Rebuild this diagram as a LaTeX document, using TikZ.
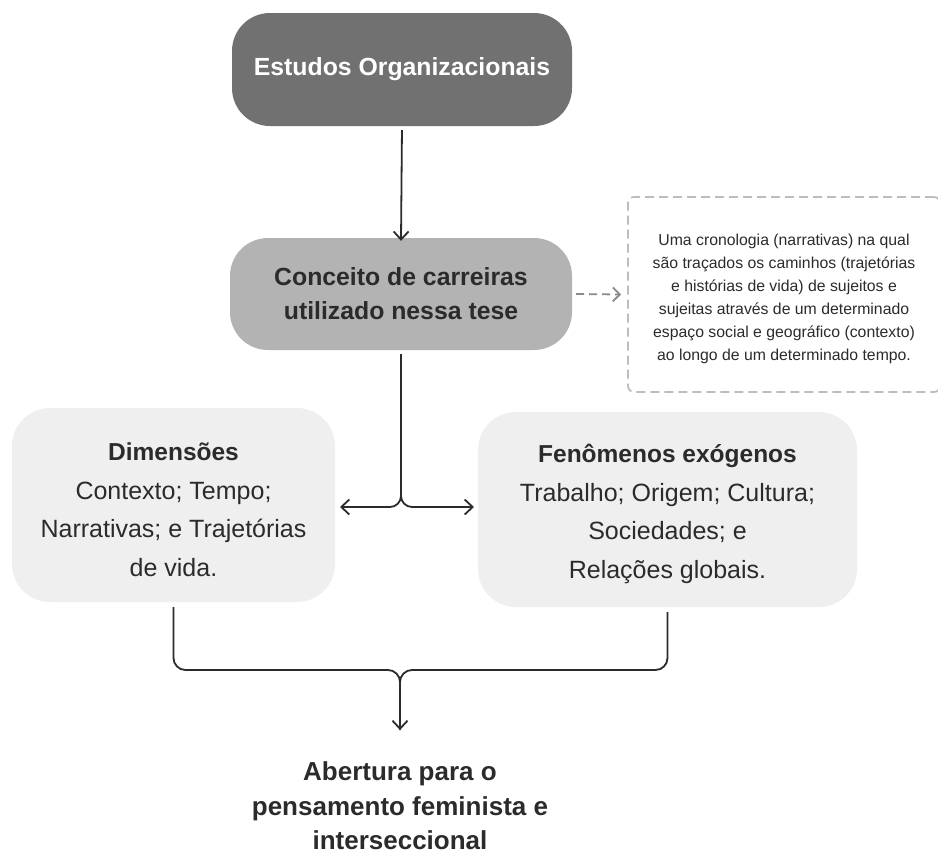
\documentclass[tikz,border=0pt]{standalone}
\usepackage{fontspec}
\setmainfont{Liberation Sans}
\usetikzlibrary{arrows.meta}
\definecolor{darkbox}{HTML}{717171}
\definecolor{midbox}{HTML}{B3B3B3}
\definecolor{lightbox}{HTML}{EFEFEF}
\definecolor{txt}{HTML}{2B2B2B}
\definecolor{dashgray}{HTML}{BDBDBD}
\definecolor{arrgray}{HTML}{8A8A8A}
\tikzset{
  box/.style={rounded corners=38pt, align=center, inner sep=0pt, text=txt},
  boldbig/.style={font=\bfseries\fontsize{24.8}{34}\selectfont},
  regbig/.style={font=\fontsize{25}{38.5}\selectfont},
  conn/.style={line width=1.8pt, draw=txt, -{Straight Barb[length=8pt,width=15pt,line width=1.8pt]}},
  plainconn/.style={line width=1.8pt, draw=txt},
  dasharr/.style={line width=1.8pt, draw=arrgray, dash pattern=on 8pt off 5pt, -{Straight Barb[length=7pt,width=14pt,line width=1.8pt]}},
  notebox/.style={draw=dashgray, line width=1.8pt, dash pattern=on 9pt off 5pt, rounded corners=6pt, align=center, text=txt, font=\fontsize{15.8}{23}\selectfont}
}
\begin{document}
\begin{tikzpicture}[x=1pt,y=-1pt]
\useasboundingbox (0,0) rectangle (938,857);
% nodes
\node[box, boldbig, fill=darkbox, text=white, minimum width=340pt, minimum height=113pt] (b1) at (402,69.5) {Estudos Organizacionais};
\node[box, boldbig, fill=midbox, minimum width=342pt, minimum height=112pt] (b2) at (401,294) {Conceito de carreiras\\utilizado nessa tese};
\node[notebox, minimum width=312pt, minimum height=195pt] (note) at (784,294.5) {\rule{0pt}{21pt}Uma cronologia (narrativas) na qual\\são traçados os caminhos (trajetórias\\e histórias de vida) de sujeitos e\\sujeitas através de um determinado\\espaço social e geográfico (contexto)\\ao longo de um determinado tempo.};
\node[box, regbig, fill=lightbox, minimum width=323pt, minimum height=194pt] (dim) at (173.5,505) {\rule{0pt}{27pt}{\bfseries\fontsize{24.5}{38.5}\selectfont Dimensões}\\Contexto; Tempo;\\Narrativas; e Trajetórias\\de vida.};
\node[box, regbig, fill=lightbox, minimum width=379pt, minimum height=195pt] (fen) at (667.5,509.5) {\rule{0pt}{27pt}{\bfseries\fontsize{24.5}{38.5}\selectfont Fenômenos exógenos}\\Trabalho; Origem; Cultura;\\Sociedades; e\\Relações globais.};
\node[align=center, inner sep=0pt, text=txt, font=\bfseries\fontsize{26}{34.5}\selectfont] (ab) at (400,806) {Abertura para o\\pensamento feminista e\\interseccional};
% coordinates
\coordinate (lend) at (340,507);
\coordinate (rend) at (474,507);
\coordinate (merge) at (400,670);
\coordinate (dend) at (400,730);
% connectors
\draw[conn, shorten <=4pt] (b1.south) -- ([yshift=-3pt]b2.north);
\draw[dasharr] ([xshift=4pt]b2.east) -- ([xshift=-6pt]note.west);
\draw[conn, rounded corners=11pt, shorten <=4pt] (b2.south) |- (lend);
\draw[conn, rounded corners=11pt, shorten <=4pt] (b2.south) |- (rend);
\draw[plainconn, rounded corners=12pt, shorten <=5pt] (dim.south) |- (merge) -- (dend);
\draw[conn, rounded corners=12pt, shorten <=5pt] (fen.south) |- (merge) -- (dend);
\end{tikzpicture}
\end{document}
